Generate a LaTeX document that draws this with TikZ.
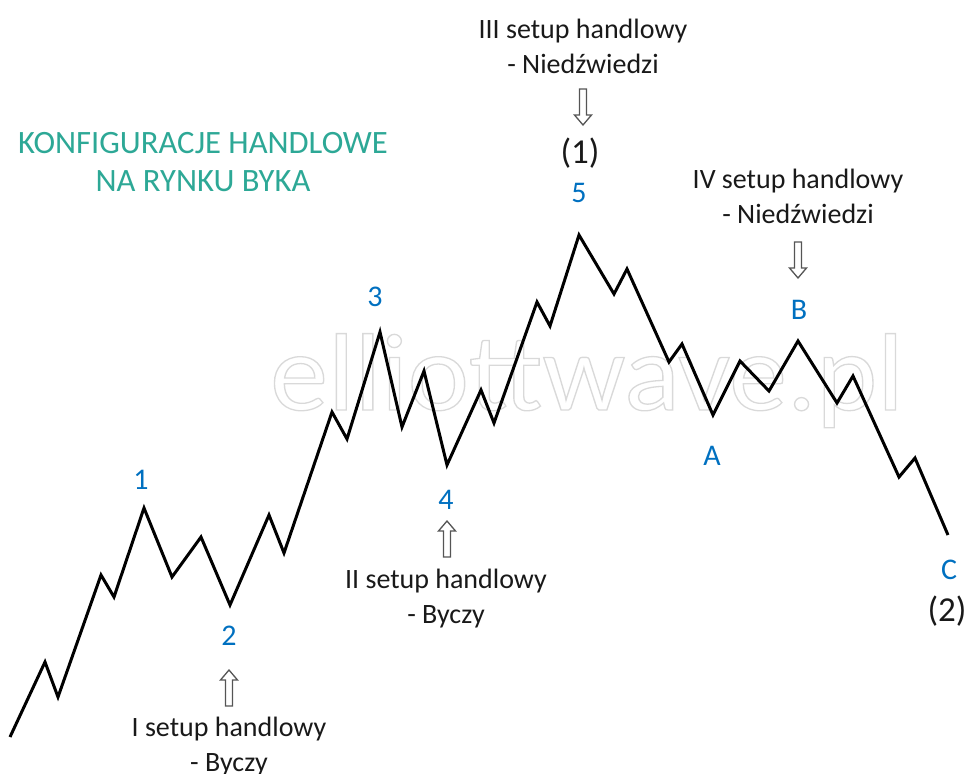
\documentclass[tikz,border=0pt]{standalone}
\usepackage{fontspec}
\setmainfont{Carlito}
\usepackage{xcolor}
\definecolor{wblue}{RGB}{0,112,192}
\definecolor{wteal}{RGB}{45,168,150}
\definecolor{wtext}{RGB}{25,25,25}
\definecolor{warrow}{RGB}{85,85,85}
\newcommand{\outlinetext}[1]{\special{pdf:code q 1 Tr 1.3 w 0.85 G}#1\special{pdf:code Q}}
\tikzset{
  wave/.style={line width=3pt, line join=miter, black},
  wavelabel/.style={text=wblue, font=\fontsize{30}{36}\selectfont, inner sep=0pt},
  biglabel/.style={text=wtext, font=\fontsize{35}{40}\selectfont, inner sep=0pt},
  setuptext/.style={text=wtext, font=\fontsize{28}{35}\selectfont, align=center, inner sep=0pt},
  titletext/.style={text=wteal, font=\fontsize{32.6}{38}\selectfont, align=center, inner sep=0pt},
  arrowline/.style={draw=warrow, fill=white, line width=1.3pt, line join=miter},
  hollowarrow/.pic={\path[arrowline] (-3.5,36) -- (-3.5,10) -- (-8.5,10) -- (0,0) -- (8.5,10) -- (3.5,10) -- (3.5,36) -- cycle;}
}
\begin{document}
\begin{tikzpicture}[x=1pt,y=-1pt]
\useasboundingbox (0,0) rectangle (967,774);
% watermark
\node[anchor=base west, inner sep=0pt, xscale=1.055, font=\fontsize{110}{120}\selectfont] (wm) at (270,410)
  {\outlinetext{elliottwave.pl}};
% wave
\draw[wave] (10,737) -- (45,662) -- (58,697) -- (101,575) -- (114,597) -- (144,508)
  -- (172,577) -- (201,537) -- (230,605) -- (269,515) -- (284,553) -- (332,412)
  -- (347,439) -- (380,332) -- (402,427) -- (424,371) -- (447,465) -- (481,390)
  -- (494,423) -- (537,302) -- (550,326) -- (579,235) -- (614,294) -- (627,269)
  -- (669,362) -- (682,344) -- (713,415) -- (740,361) -- (769,391) -- (798,341)
  -- (837,403) -- (853,376) -- (899,477) -- (915,458) -- (948,535);
% wave labels
\node[wavelabel] (l1) at (141,480) {1};
\node[wavelabel] (l2) at (229,636) {2};
\node[wavelabel] (l3) at (375,297) {3};
\node[wavelabel] (l4) at (446,500) {4};
\node[wavelabel] (l5) at (579,193) {5};
\node[wavelabel] (lA) at (712,456) {A};
\node[wavelabel] (lB) at (799,310) {B};
\node[wavelabel] (lC) at (949,570) {C};
\node[biglabel] (p1) at (580,153) {(1)};
\node[biglabel] (p2) at (947,611) {(2)};
% title
\node[titletext] (title) at (203,162) {KONFIGURACJE HANDLOWE\\NA RYNKU BYKA};
% setup texts
\node[setuptext] (s1) at (229,747) {I setup handlowy\\- Byczy};
\node[setuptext] (s2) at (446,599) {II setup handlowy\\- Byczy};
\node[setuptext] (s3) at (583,46) {III setup handlowy\\- Niedźwiedzi};
\node[setuptext] (s4) at (798,196) {IV setup handlowy\\- Niedźwiedzi};
% arrows
\pic at (229,670) {hollowarrow};
\pic at (447,521) {hollowarrow};
\pic[yscale=-1] at (583,125) {hollowarrow};
\pic[yscale=-1] at (798,278) {hollowarrow};
\end{tikzpicture}
\end{document}
